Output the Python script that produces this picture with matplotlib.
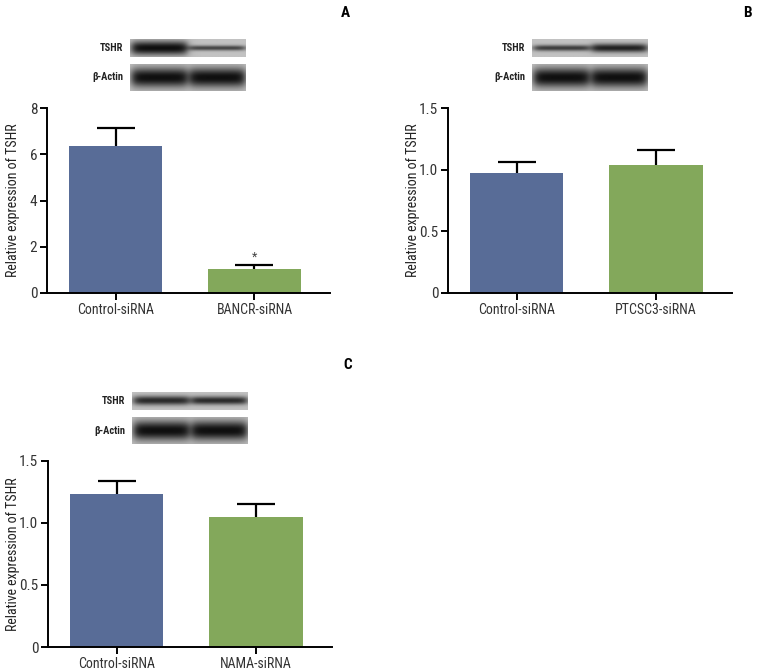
import numpy as np
import matplotlib.pyplot as plt

plt.rcParams['font.family'] = ['Roboto Condensed', 'Liberation Sans Narrow', 'Roboto', 'DejaVu Sans']

# ---- datos ----
groups_A = ['Control-siRNA', 'BANCR-siRNA']
means_A = [6.35, 1.02]
errs_A = [0.78, 0.18]
yticks_A = [0, 2, 4, 6, 8]

groups_B = ['Control-siRNA', 'PTCSC3-siRNA']
means_B = [0.97, 1.035]
errs_B = [0.095, 0.125]
yticks_B = [0, 0.5, 1.0, 1.5]

groups_C = ['Control-siRNA', 'NAMA-siRNA']
means_C = [1.235, 1.045]
errs_C = [0.105, 0.105]
yticks_C = [0, 0.5, 1.0, 1.5]

# intensidad y grosor de las bandas (por carril)
tshr_A = [1.0, 0.7]
tshr_w_A = [0.8, 0.3]
tshr_B = [0.75, 0.9]
tshr_w_B = [0.35, 0.5]
tshr_C = [0.85, 0.85]
tshr_w_C = [0.5, 0.45]
actin = [1.0, 1.0]
actin_w = [0.75, 0.75]

blue = '#586c97'
green = '#83a85b'


def band_img(strength, thick, w=120, h=20):
    # imagen sintetica de la tira del western blot
    n = len(strength)
    x = np.arange(w)
    y = np.linspace(-1, 1, h)
    img = np.full((h, w), 0.76)
    for i in range(n):
        xc = (i + 0.5) * w / n
        hw = 0.5 * w / n
        lane = 1.0 / (1 + np.exp((np.abs(x - xc) - hw * 0.95) / 2.5))
        row = np.exp(-(np.abs(y) / max(thick[i], 0.05)) ** 2.2)
        img -= strength[i] * np.outer(row, lane) * 0.7
    return np.clip(img, 0, 1)


def panel(rect, groups, means, errs, yticks, ylim, star=False):
    ax = fig.add_axes(rect)
    pos = np.arange(len(groups))
    ax.bar(pos, means, width=0.67, color=[blue, green], zorder=2)
    ax.errorbar(pos, means, yerr=errs, fmt='none',
                ecolor='black', elinewidth=1.6, capsize=14, capthick=1.6, zorder=1)
    ax.set_xlim(-0.495, 1.545)
    ax.set_ylim(*ylim)
    ax.set_xticks(pos)
    ax.set_xticklabels(groups, fontsize=10, color='#333333')
    ax.set_yticks(yticks)
    ax.set_yticklabels([('%g' % t) if t == 0 or t >= 2 else '%.1f' % t for t in yticks],
                       fontsize=11, color='#333333')
    for s in ['top', 'right']:
        ax.spines[s].set_visible(False)
    for s in ['left', 'bottom']:
        ax.spines[s].set_linewidth(1.4)
    ax.tick_params(width=1.4, length=5, pad=2)
    ax.set_ylabel('Relative expression of TSHR', fontsize=10, color='#222222')
    ax.yaxis.set_label_coords(-0.097, 0.5)
    if star:
        ax.text(1, means[1] + errs[1] + 0.08, '*', ha='center', va='bottom', fontsize=9,
                color='#444444')
    return ax


def blot(x0, y0, strengths, thick, label, bh=18):
    # x0, y0 en pixeles (arriba-izquierda)
    W, H = 757.0, 672.0
    bw = 116
    ax = fig.add_axes([x0 / W, 1 - (y0 + bh) / H, bw / W, bh / H])
    ax.imshow(band_img(strengths, thick), cmap='gray', vmin=0, vmax=1, aspect='auto',
              interpolation='bilinear')
    ax.axis('off')
    fig.text((x0 - 7) / W, 1 - (y0 + bh / 2) / H, label, ha='right', va='center',
             fontsize=7.5, fontweight='bold', color='#222222')


fig = plt.figure(figsize=(7.57, 6.72), dpi=100)

panel([0.0621, 0.564, 0.374, 0.275], groups_A, means_A, errs_A, yticks_A, (0, 8), star=True)
panel([0.5918, 0.564, 0.375, 0.275], groups_B, means_B, errs_B, yticks_B, (0, 1.5))
panel([0.0634, 0.0372, 0.375, 0.277], groups_C, means_C, errs_C, yticks_C, (0, 1.5))

blot(130, 39, tshr_A, tshr_w_A, 'TSHR')
blot(130, 64, actin, actin_w, 'β-Actin', bh=27)
blot(532, 39, tshr_B, tshr_w_B, 'TSHR')
blot(532, 64, actin, actin_w, 'β-Actin', bh=27)
blot(132, 392, tshr_C, tshr_w_C, 'TSHR')
blot(132, 417, actin, actin_w, 'β-Actin', bh=27)

fig.text(345 / 757, 1 - 13 / 672, 'A', ha='center', va='center', fontsize=11, fontweight='bold')
fig.text(747 / 757, 1 - 13 / 672, 'B', ha='center', va='center', fontsize=11, fontweight='bold')
fig.text(348 / 757, 1 - 365 / 672, 'C', ha='center', va='center', fontsize=11, fontweight='bold')

plt.savefig('out.png', dpi=100)
